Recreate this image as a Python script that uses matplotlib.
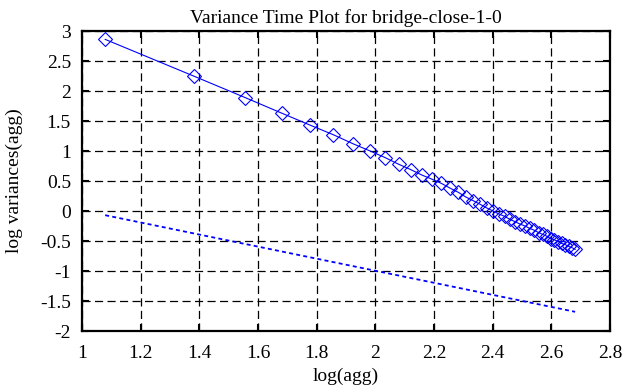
import numpy as np
import matplotlib
matplotlib.use("Agg")
import matplotlib.pyplot as plt

# aggregation levels and measured log variances
agg = [12, 24, 36, 48, 60, 72, 84, 96, 108, 120,
       132, 144, 156, 168, 180, 192, 204, 216, 228, 240,
       252, 264, 276, 288, 300, 312, 324, 336, 348, 360,
       372, 384, 396, 408, 420, 432, 444, 456, 468, 480]
log_var = [2.86, 2.25, 1.89, 1.63, 1.43, 1.27, 1.12, 1.00, 0.89, 0.78,
           0.69, 0.60, 0.53, 0.46, 0.38, 0.31, 0.23, 0.17, 0.11, 0.05,
           0.00, -0.05, -0.09, -0.14, -0.18, -0.22, -0.25, -0.29, -0.32, -0.36,
           -0.39, -0.42, -0.46, -0.48, -0.51, -0.54, -0.56, -0.59, -0.61, -0.64]

# slope -1 reference line
ref_x = [1.079, 2.681]
ref_y = [-0.07, -1.68]

xticks = [1, 1.2, 1.4, 1.6, 1.8, 2, 2.2, 2.4, 2.6, 2.8]
xticklabels = ["1", "1.2", "1.4", "1.6", "1.8", "2", "2.2", "2.4", "2.6", "2.8"]
yticks = [-2, -1.5, -1, -0.5, 0, 0.5, 1, 1.5, 2, 2.5, 3]
yticklabels = ["-2", "-1.5", "-1", "-0.5", "0", "0.5", "1", "1.5", "2", "2.5", "3"]

plt.rcParams['font.family'] = ['Liberation Serif', 'DejaVu Serif']
plt.rcParams['font.size'] = 14

fig = plt.figure(figsize=(6.26, 3.87), dpi=100)
ax = fig.add_axes([82 / 626, 1 - 331 / 387, 528 / 626, 300 / 387])

x = np.log10(agg)
ax.plot(x, log_var, color='#0000ff', lw=0.8, marker='D', ms=7.2,
        mfc='none', mec='#0000ff', mew=0.8, zorder=3)
ax.plot(ref_x, ref_y, color='#0000ff', lw=1.3, linestyle=(0, (2.2, 1.8)), zorder=3)

ax.set_xlim(1, 2.8)
ax.set_ylim(-2, 3)
ax.set_xticks(xticks)
ax.set_xticklabels(xticklabels)
ax.set_yticks(yticks)
ax.set_yticklabels(yticklabels)

ax.grid(True, color='black', lw=0.9, linestyle=(0, (6.5, 3.5)))
ax.set_axisbelow(True)
for s in ax.spines.values():
    s.set_linewidth(1.6)
ax.tick_params(direction='in', length=5, width=1.5, top=True, right=True,
               pad=8, labelsize=14)
ax.tick_params(axis='x', pad=10)

ax.set_title("Variance Time Plot for bridge-close-1-0", fontsize=14, pad=6)
ax.set_xlabel("log(agg)", fontsize=14, labelpad=4)
ax.set_ylabel("log variances(agg)", fontsize=14, labelpad=12)

fig.savefig("out.png", dpi=100)
